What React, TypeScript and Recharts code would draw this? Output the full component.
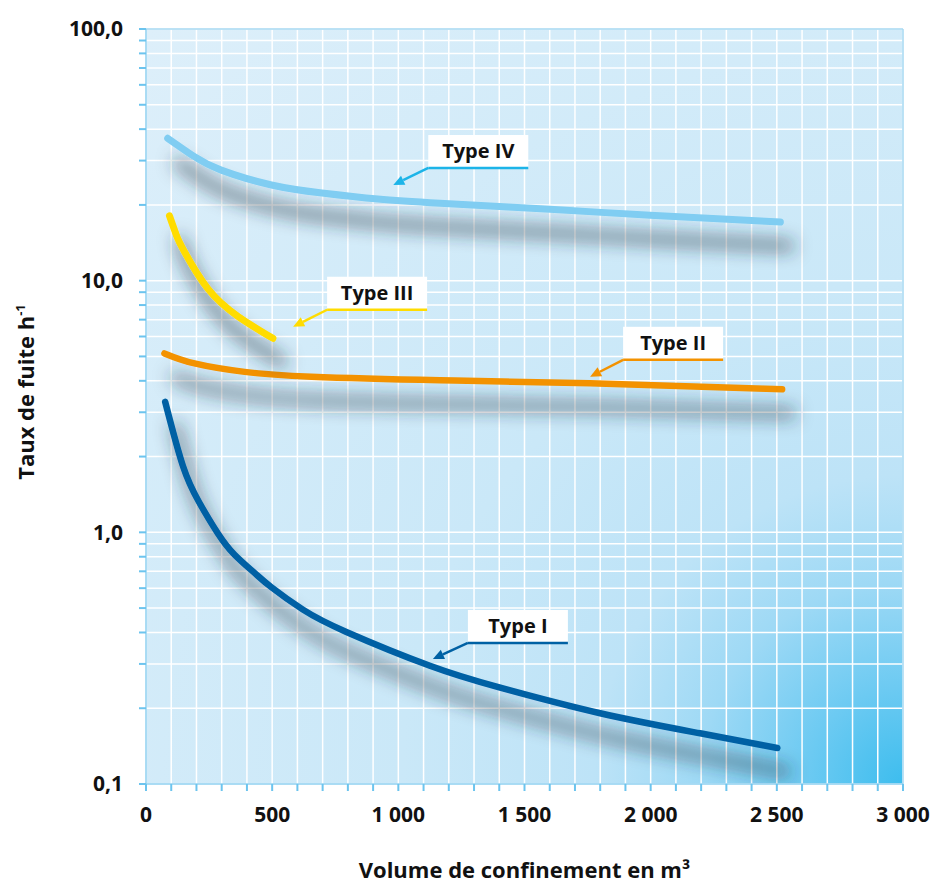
import React from 'react';
import { LineChart, Line, XAxis, YAxis, CartesianGrid, ReferenceDot, ReferenceLine, Label } from 'recharts';

// ---- Data ----
const typeI_x = [76, 146, 210, 285, 351, 430, 497, 622, 794, 1125, 1400, 1800, 2196, 2502];
const typeI_y = [3.3, 1.84, 1.32, 0.99, 0.815, 0.69, 0.605, 0.493, 0.402, 0.295, 0.242, 0.191, 0.159, 0.139];

const typeII_x = [73, 192, 391, 656, 1165, 1760, 2521];
const typeII_y = [5.14, 4.69, 4.34, 4.15, 4.02, 3.91, 3.7];

const typeIII_x = [93, 120, 153, 245, 364, 503];
const typeIII_y = [18.1, 15.2, 13.0, 9.3, 7.22, 5.9];

const typeIV_x = [86, 192, 298, 497, 697, 919, 1165, 1601, 1998, 2514];
const typeIV_y = [36.8, 31.1, 27.5, 24.0, 22.3, 21.1, 20.3, 19.2, 18.2, 17.1];

const seriesNames = ['Type I', 'Type II', 'Type III', 'Type IV'];
const annotX = [1137, 1760, 583, 980];
const annotY = [0.314, 4.15, 6.56, 24.0];

const xTickLabels = [0, 500, 1000, 1500, 2000, 2500, 3000];
const yTickLabels = [0.1, 1, 10, 100];
const yTicks = [
  0.1, 0.2, 0.3, 0.4, 0.5, 0.6, 0.7, 0.8, 0.9,
  1, 2, 3, 4, 5, 6, 7, 8, 9,
  10, 20, 30, 40, 50, 60, 70, 80, 90,
  100,
];
const xTicks = Array.from({ length: 31 }, (_, i) => i * 100);

const zip = (xs: number[], ys: number[]) => xs.map((x, i) => ({ x, y: ys[i] }));
const dataI = zip(typeI_x, typeI_y);
const dataII = zip(typeII_x, typeII_y);
const dataIII = zip(typeIII_x, typeIII_y);
const dataIV = zip(typeIV_x, typeIV_y);

// ---- Styles ----
const FONT = '"Open Sans", "Noto Sans", sans-serif';
const lineColors = ['#0061a4', '#f39200', '#ffdc00', '#80cdf2'];
const annotColors = ['#0061a4', '#f39200', '#ffdc00', '#1cb4e8'];
const annotOffsets = [
  [35, -16],
  [33, -17],
  [34, -17],
  [35, -17],
];
const BOX_W = 100;
const BOX_H = 33;

const fmtX = (v: number) => {
  if (!xTickLabels.includes(v)) return '';
  if (v >= 1000) return `${Math.floor(v / 1000)} ${String(v % 1000).padStart(3, '0')}`;
  return String(v);
};
const fmtY = (v: number) => {
  const hit = yTickLabels.find((t) => Math.abs(t - v) < 1e-9);
  if (hit === undefined) return '';
  return hit.toFixed(1).replace('.', ',');
};

const Annotation = ({ cx, cy, idx }: { cx: number; cy: number; idx: number }) => {
  const [dx, dy] = annotOffsets[idx];
  const bx = cx + dx;
  const by = cy + dy;
  const color = annotColors[idx];
  const ang = Math.atan2(cy - by, cx - bx);
  const L = 11;
  const W = 5;
  const baseX = cx - L * Math.cos(ang);
  const baseY = cy - L * Math.sin(ang);
  const px = -Math.sin(ang) * W;
  const py = Math.cos(ang) * W;
  return (
    <g>
      <rect x={bx} y={by - BOX_H} width={BOX_W} height={BOX_H} fill="#ffffff" />
      <line x1={bx} y1={by} x2={bx + BOX_W} y2={by} stroke={color} strokeWidth={2.5} />
      <line x1={bx} y1={by} x2={baseX} y2={baseY} stroke={color} strokeWidth={2.5} />
      <polygon
        points={`${cx},${cy} ${baseX + px},${baseY + py} ${baseX - px},${baseY - py}`}
        fill={color}
      />
      <text
        x={bx + BOX_W / 2}
        y={by - BOX_H / 2 + 7}
        textAnchor="middle"
        fontFamily={FONT}
        fontWeight={700}
        fontSize={20}
        fill="#111111"
      >
        {seriesNames[idx]}
      </text>
    </g>
  );
};

const YTitle = () => (
  <text
    x={26}
    y={384}
    transform="rotate(-90 26 384)"
    textAnchor="middle"
    fontFamily={FONT}
    fontWeight={700}
    fontSize={22}
    fill="#111111"
  >
    Taux de fuite h
    <tspan dy={-9} fontSize={13}>-1</tspan>
  </text>
);

export default function App() {
  const tickStyle = { fontFamily: FONT, fontSize: 21, fontWeight: 700, fill: '#111111' };
  const lines = [dataI, dataII, dataIII, dataIV];
  const widths = [6.5, 6.5, 7, 7];
  return (
    <div style={{ width: 939, height: 877, fontFamily: FONT }}>
      <LineChart width={939} height={877} margin={{ top: 21, right: 44, bottom: 0, left: 0 }}>
        <defs>
          <radialGradient id="bg" cx="100%" cy="100%" r="141%" fx="100%" fy="100%">
            <stop offset="0" stopColor="#3dbdee" />
            <stop offset="0.09" stopColor="#6ccaf2" />
            <stop offset="0.19" stopColor="#9ed9f5" />
            <stop offset="0.29" stopColor="#bde3f7" />
            <stop offset="0.47" stopColor="#cae8f8" />
            <stop offset="1" stopColor="#ddeffa" />
          </radialGradient>
          <filter id="shadow" filterUnits="userSpaceOnUse" x={0} y={0} width={939} height={877}>
            <feGaussianBlur in="SourceAlpha" stdDeviation={9} />
            <feOffset dx={10} dy={24} result="blur" />
            <feFlood floodColor="#1f2f3d" floodOpacity={0.9} />
            <feComposite in2="blur" operator="in" />
            <feMerge>
              <feMergeNode />
              <feMergeNode in="SourceGraphic" />
            </feMerge>
          </filter>
        </defs>
        <CartesianGrid stroke="#ffffff" strokeWidth={1.5} fill="url(#bg)" fillOpacity={1} />
        <XAxis
          type="number"
          dataKey="x"
          domain={[0, 3000]}
          ticks={xTicks}
          interval={0}
          tickFormatter={fmtX}
          tick={tickStyle}
          tickSize={7}
          tickMargin={16}
          tickLine={{ stroke: '#6cc4ee', strokeWidth: 2 }}
          axisLine={{ stroke: '#8fd0f0', strokeWidth: 1.5 }}
          height={101}
          allowDataOverflow
        >
          <Label
            value="Volume de confinement en m³"
            position="insideBottom"
            offset={7}
            style={{ fontFamily: FONT, fontSize: 22, fontWeight: 700, fill: '#111111' }}
          />
        </XAxis>
        <YAxis
          type="number"
          scale="log"
          domain={[0.1, 100]}
          ticks={yTicks}
          interval={0}
          tickFormatter={fmtY}
          tick={tickStyle}
          tickSize={7}
          tickMargin={16}
          tickLine={{ stroke: '#6cc4ee', strokeWidth: 2 }}
          axisLine={{ stroke: '#8fd0f0', strokeWidth: 1.5 }}
          width={138}
          allowDataOverflow
        >
          <Label content={() => <YTitle />} />
        </YAxis>
        <ReferenceLine y={100} stroke="#a6d9f2" strokeWidth={1.5} />
        <ReferenceLine x={3000} stroke="#a6d9f2" strokeWidth={1.5} />
        {lines.map((d, i) => (
          <Line
            key={seriesNames[i]}
            data={d}
            dataKey="y"
            type="natural"
            stroke={lineColors[i]}
            strokeWidth={widths[i]}
            strokeLinecap="round"
            dot={false}
            activeDot={false}
            filter="url(#shadow)"
            isAnimationActive={false}
          />
        ))}
        {annotX.map((x, i) => (
          <ReferenceDot
            key={'a' + i}
            x={x}
            y={annotY[i]}
            r={1}
            shape={(p: any) => <Annotation cx={p.cx} cy={p.cy} idx={i} />}
          />
        ))}
      </LineChart>
    </div>
  );
}
